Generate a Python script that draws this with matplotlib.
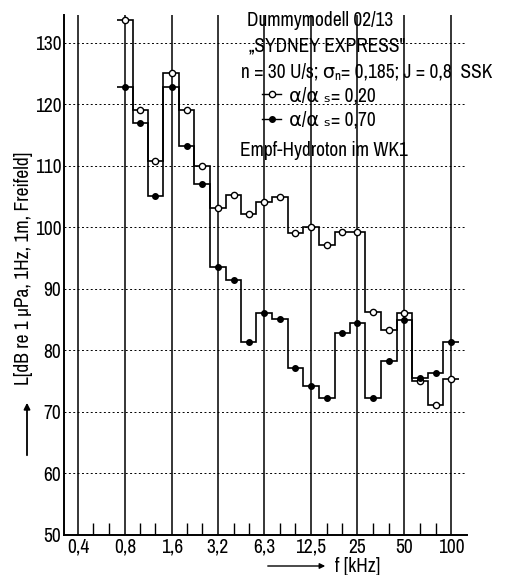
import numpy as np
import matplotlib
matplotlib.use('Agg')
import matplotlib.pyplot as plt
from matplotlib.lines import Line2D

plt.rcParams['font.family'] = ['Archivo Narrow', 'DejaVu Sans']

# Terzband-Mittenfrequenzen [kHz]
freq = [0.8, 1.0, 1.25, 1.6, 2.0, 2.5, 3.15, 4.0, 5.0, 6.3, 8.0, 10.0,
        12.5, 16.0, 20.0, 25.0, 31.5, 40.0, 50.0, 63.0, 80.0, 100.0]
# Pegel alpha/alpha_s = 0,20 (offene Kreise)
pegel_020 = [133.7, 119.0, 110.8, 125.0, 119.0, 110.0, 103.1, 105.2, 102.2, 104.1, 105.0, 99.1,
             100.0, 97.1, 99.3, 99.3, 86.3, 83.3, 86.0, 75.0, 71.2, 75.3]
# Pegel alpha/alpha_s = 0,70 (gefuellte Kreise)
pegel_070 = [122.8, 117.0, 105.1, 122.8, 113.2, 107.1, 93.5, 91.4, 81.4, 86.1, 85.1, 77.2,
             74.2, 72.3, 82.8, 84.4, 72.3, 78.3, 85.0, 75.5, 76.3, 81.3]

oktaven = [0.4, 0.8, 1.6, 3.15, 6.3, 12.5, 25, 50, 100]
oktaven_txt = ['0,4', '0,8', '1,6', '3,2', '6,3', '12,5', '25', '50', '100']
terzen = [0.5, 0.63, 1.0, 1.25, 2.0, 2.5, 4.0, 5.0, 8.0, 10.0, 16.0, 20.0, 31.5, 40.0, 63.0, 80.0]
y_ticks = [50, 60, 70, 80, 90, 100, 110, 120, 130]

f = np.array(freq)
kanten = np.concatenate([[f[0] / 2 ** (1 / 6)], np.sqrt(f[:-1] * f[1:]), [f[-1] * 2 ** (1 / 6)]])

fig = plt.figure(figsize=(5.21, 5.75), dpi=100)
ax = fig.add_axes([64 / 521, 40 / 575, (467 - 64) / 521, (535 - 15) / 575])

# Treppenkurven
ax.stairs(pegel_020, kanten, baseline=None, color='k', lw=1.2, zorder=3)
ax.stairs(pegel_070, kanten, baseline=None, color='k', lw=1.2, zorder=3)
ax.plot(freq, pegel_020, ls='none', marker='o', ms=4.5, mfc='white', mec='k', mew=1.0, zorder=4)
ax.plot(freq, pegel_070, ls='none', marker='o', ms=4, mfc='k', mec='k', zorder=4)

ax.set_xscale('log')
ax.set_xlim(0.324, 127)
ax.set_ylim(50, 134.5)
ax.set_xticks(oktaven)
ax.set_xticklabels(oktaven_txt)
ax.set_xticks(terzen, minor=True)
ax.xaxis.set_minor_formatter(matplotlib.ticker.NullFormatter())
ax.set_yticks(y_ticks)
ax.tick_params(axis='both', which='major', length=0, labelsize=14, pad=2)
ax.tick_params(axis='x', which='minor', direction='in', length=9, width=1.0)

ax.grid(axis='x', which='major', color='k', lw=1.1, ls='-')
ax.grid(axis='y', which='major', color='k', lw=0.7, ls=(0, (2, 2.5)))
for s in ['top', 'right']:
    ax.spines[s].set_visible(False)
ax.spines['left'].set_linewidth(1.4)
ax.spines['bottom'].set_linewidth(1.4)

# Achsbeschriftungen mit Pfeilen
fig.text(24 / 521, 1 - 268 / 575, 'L[dB re 1 μPa, 1Hz, 1m, Freifeld]', rotation=90,
         ha='center', va='center', fontsize=14)
ax.annotate('', xy=(27 / 521, 1 - 400 / 575), xytext=(27 / 521, 1 - 458 / 575),
            xycoords='figure fraction', textcoords='figure fraction',
            arrowprops=dict(arrowstyle='-|>', color='k', lw=1.3, mutation_scale=9))
fig.text(335 / 521, 1 - 566 / 575, 'f [kHz]', ha='left', va='center', fontsize=14)
ax.annotate('', xy=(328 / 521, 1 - 566 / 575), xytext=(265 / 521, 1 - 566 / 575),
            xycoords='figure fraction', textcoords='figure fraction',
            arrowprops=dict(arrowstyle='-|>', color='k', lw=1.0, mutation_scale=8))

# Kopftexte
fs = 14
fig.text(247 / 521, 1 - 20 / 575, 'Dummymodell 02/13', ha='left', va='center', fontsize=fs)
fig.text(249 / 521, 1 - 46 / 575, '„SYDNEY EXPRESS"', ha='left', va='center', fontsize=fs)
fig.text(241 / 521, 1 - 72 / 575, 'n = 30 U/s; σₙ= 0,185; J = 0,8  SSK',
         ha='left', va='center', fontsize=fs)
fig.text(240 / 521, 1 - 150 / 575, 'Empf-Hydroton im WK1', ha='left', va='center', fontsize=fs)

handles = [Line2D([], [], color='k', lw=1.0, marker='o', ms=4.5, mfc='white', mec='k'),
           Line2D([], [], color='k', lw=1.0, marker='o', ms=4, mfc='k', mec='k')]
labels = ['α/α ₛ= 0,20', 'α/α ₛ= 0,70']
fig.legend(handles, labels, loc='upper left', bbox_to_anchor=(262 / 521, 1 - 86 / 575),
           frameon=False, fontsize=fs, handlelength=1.0, handletextpad=0.4,
           borderpad=0, borderaxespad=0, labelspacing=0.3)

fig.savefig('out.png', dpi=100)
